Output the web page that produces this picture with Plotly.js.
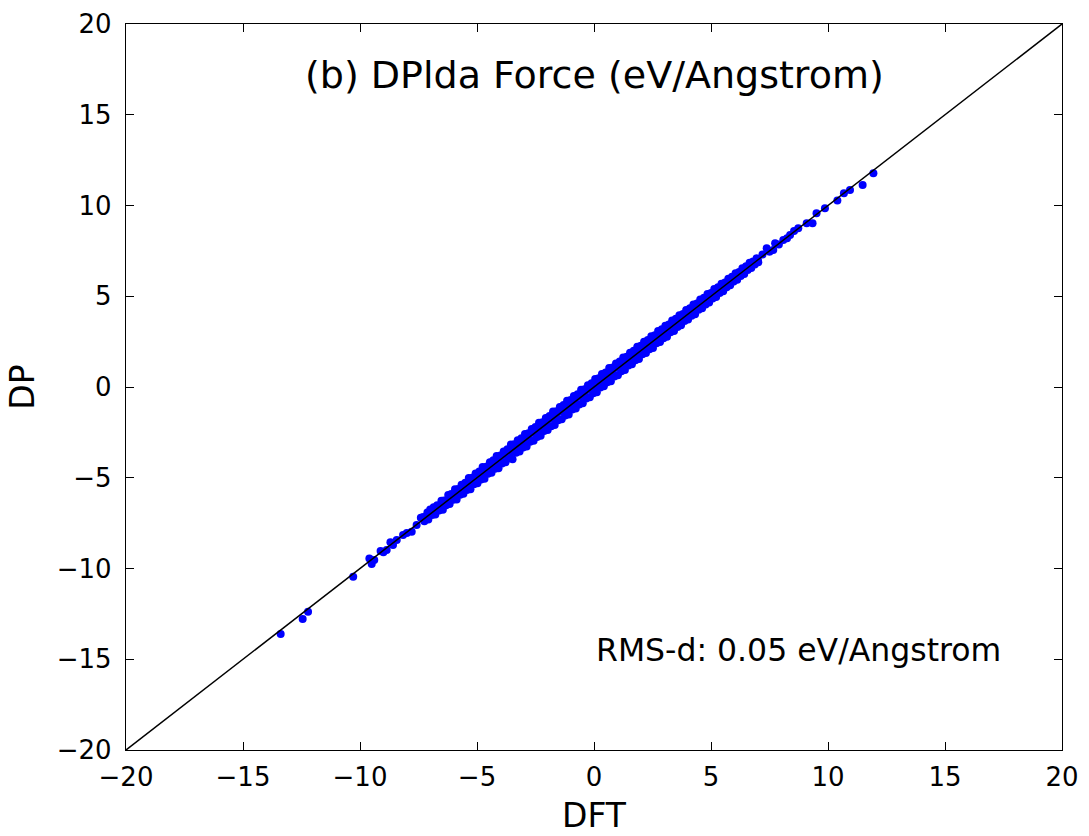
<!DOCTYPE html>
<html>
<head>
<meta charset="utf-8">
<script src="https://cdn.plot.ly/plotly-3.0.1.min.js"></script>
<style>html,body{margin:0;padding:0;background:#fff;}</style>
</head>
<body>
<div id="chart" style="width:1089px;height:836px;"></div>
<script>
// Upper side of the band
const dftUpper = [-7.3,-7.12,-6.98,-6.85,-6.7,-6.52,-6.4,-6.23,-6.1,-5.94,-5.8,-5.66,-5.5,-5.35,-5.2,-5.06,-4.9,-4.76,-4.6,-4.45,-4.3,-4.16,-4.0,-3.86,-3.7,-3.55,-3.4,-3.26,-3.1,-2.95,-2.8,-2.66,-2.5,-2.35,-2.2,-2.06,-1.9,-1.75,-1.6,-1.46,-1.3,-1.15,-1.0,-0.86,-0.7,-0.55,-0.4,-0.26,-0.1,0.05,0.2,0.34,0.5,0.65,0.8,0.94,1.1,1.25,1.4,1.54,1.7,1.85,2.0,2.14,2.3,2.45,2.6,2.74,2.9,3.05,3.2,3.34,3.5,3.65,3.8,3.94,4.1,4.25,4.4,4.54,4.7,4.85,5.0,5.14,5.3,5.45,5.6,5.74,5.9,6.05,6.2,6.34,6.5,6.65,6.8];
const dpUpper = [-7.16,-6.92,-6.86,-6.63,-6.52,-6.27,-6.25,-5.95,-5.90,-5.64,-5.62,-5.39,-5.28,-5.02,-5.00,-4.77,-4.66,-4.41,-4.39,-4.15,-4.04,-3.80,-3.78,-3.55,-3.43,-3.17,-3.16,-2.93,-2.82,-2.59,-2.55,-2.32,-2.21,-1.97,-1.94,-1.71,-1.60,-1.35,-1.33,-1.10,-0.99,-0.76,-0.72,-0.49,-0.40,-0.15,-0.13,0.10,0.21,0.44,0.48,0.71,0.80,1.05,1.07,1.30,1.41,1.63,1.66,1.89,2.00,2.22,2.27,2.50,2.59,2.80,2.85,3.08,3.18,3.38,3.44,3.66,3.76,3.96,4.02,4.24,4.34,4.54,4.60,4.82,4.92,5.12,5.18,5.40,5.50,5.69,5.76,5.97,6.08,6.27,6.34,6.54,6.65,6.84,6.92];

// Lower side of the band
const dftLower = [-7.25,-7.08,-6.92,-6.78,-6.62,-6.46,-6.32,-6.17,-6.02,-5.87,-5.72,-5.58,-5.43,-5.28,-5.13,-4.98,-4.83,-4.68,-4.53,-4.38,-4.23,-4.08,-3.93,-3.78,-3.63,-3.48,-3.33,-3.18,-3.03,-2.88,-2.73,-2.58,-2.43,-2.28,-2.13,-1.98,-1.83,-1.68,-1.53,-1.38,-1.23,-1.08,-0.93,-0.78,-0.63,-0.48,-0.33,-0.18,-0.03,0.12,0.27,0.42,0.57,0.72,0.87,1.02,1.17,1.32,1.47,1.62,1.77,1.92,2.07,2.22,2.37,2.52,2.67,2.82,2.97,3.12,3.27,3.42,3.57,3.72,3.87,4.02,4.17,4.32,4.47,4.62,4.77,4.92,5.07,5.22,5.37,5.52,5.67,5.82,5.97,6.12,6.27,6.42,6.57,6.72,6.87,7.02];
const dpLower = [-7.40,-7.30,-7.05,-7.03,-6.80,-6.76,-6.52,-6.45,-6.21,-6.20,-5.94,-5.88,-5.67,-5.64,-5.36,-5.30,-5.09,-5.06,-4.78,-4.72,-4.50,-4.47,-4.21,-4.14,-3.93,-3.98,-3.62,-3.55,-3.34,-3.28,-3.01,-2.96,-2.75,-2.69,-2.42,-2.37,-2.16,-2.10,-1.83,-1.78,-1.57,-1.51,-1.24,-1.18,-0.96,-0.90,-0.63,-0.57,-0.35,-0.29,-0.03,0.04,0.26,0.32,0.58,0.65,0.87,0.93,1.19,1.26,1.47,1.54,1.80,1.87,2.08,2.15,2.41,2.48,2.69,2.77,3.02,3.09,3.30,3.40,3.63,3.72,3.92,4.01,4.25,4.34,4.54,4.65,4.87,4.96,5.18,5.28,5.49,5.60,5.81,5.91,6.12,6.23,6.44,6.55,6.75,6.87];

// Centre of the band
const dftMid = [-7.0,-6.8,-6.6,-6.4,-6.2,-6.0,-5.8,-5.6,-5.4,-5.2,-5.0,-4.8,-4.6,-4.4,-4.2,-4.0,-3.8,-3.6,-3.4,-3.2,-3.0,-2.8,-2.6,-2.4,-2.2,-2.0,-1.8,-1.6,-1.4,-1.2,-1.0,-0.8,-0.6,-0.4,-0.2,0.0,0.2,0.4,0.6,0.8,1.0,1.2,1.4,1.6,1.8,2.0,2.2,2.4,2.6,2.8,3.0,3.2,3.4,3.6,3.8,4.0,4.2,4.4,4.6,4.8,5.0,5.2,5.4,5.6,5.8,6.0,6.2,6.4,6.6,6.8,7.0];
const dpMid = [-6.97,-6.84,-6.56,-6.45,-6.17,-6.06,-5.76,-5.65,-5.37,-5.25,-4.96,-4.86,-4.55,-4.46,-4.16,-4.05,-3.75,-3.66,-3.35,-3.26,-2.95,-2.86,-2.54,-2.46,-2.15,-2.06,-1.74,-1.66,-1.35,-1.25,-0.95,-0.86,-0.54,-0.46,-0.15,-0.05,0.26,0.34,0.65,0.74,1.06,1.14,1.45,1.54,1.86,1.94,2.25,2.34,2.66,2.74,3.05,3.14,3.46,3.55,3.85,3.95,4.24,4.35,4.64,4.76,5.04,5.15,5.44,5.56,5.83,5.96,6.24,6.36,6.63,6.77,7.03];

// Sparse tails
const dftTailLow = [-13.39,-12.45,-12.22,-10.29,-9.60,-9.50,-9.39,-9.12,-9.00,-8.86,-8.70,-8.59,-8.43,-8.16,-8.00,-7.79,-7.58,-7.40,-7.00];
const dpTailLow = [-13.61,-12.78,-12.38,-10.45,-9.45,-9.75,-9.53,-9.04,-9.10,-8.98,-8.55,-8.70,-8.43,-8.15,-8.05,-7.97,-7.60,-7.20,-6.75];
const dftTailHigh = [6.95,7.20,7.38,7.50,7.66,7.74,7.90,8.09,8.25,8.38,8.55,8.73,9.09,9.34,9.51,9.87,10.40,10.68,10.94,11.48,11.94];
const dpTailHigh = [7.09,7.30,7.64,7.45,7.55,7.92,7.85,8.10,8.20,8.37,8.60,8.74,9.02,9.02,9.57,9.85,10.27,10.67,10.85,11.13,11.77];

const diagX = [-20, 20];
const diagY = [-20, 20];

const titleText = "(b) DPlda Force (eV/Angstrom)";
const rmsText = "RMS-d: 0.05 eV/Angstrom";
const tickVals = [-20,-15,-10,-5,0,5,10,15,20];

const allX = [].concat(dftUpper, dftLower, dftMid, dftTailLow, dftTailHigh);
const allY = [].concat(dpUpper, dpLower, dpMid, dpTailLow, dpTailHigh);

const font = "DejaVu Sans, sans-serif";

const traces = [
  {x: allX, y: allY, type: "scatter", mode: "markers",
   marker: {color: "#0000ff", size: 8, opacity: 1, line: {width: 0}}, hoverinfo: "skip"},
  {x: diagX, y: diagY, type: "scatter", mode: "lines",
   line: {color: "#000000", width: 1.5}, hoverinfo: "skip"}
];

const axisCommon = {
  range: [-20, 20], tickvals: tickVals, ticks: "inside", ticklen: 8, tickwidth: 1,
  tickcolor: "#000", showline: true, linecolor: "#000", linewidth: 1.2, mirror: "ticks",
  showgrid: false, zeroline: false, tickfont: {family: font, size: 26, color: "#000"},
  fixedrange: true
};

const layout = {
  width: 1089, height: 836,
  margin: {l: 126, r: 27, t: 24, b: 86},
  paper_bgcolor: "#fff", plot_bgcolor: "#fff",
  showlegend: false,
  font: {family: font, color: "#000"},
  xaxis: Object.assign({}, axisCommon, {
    title: {text: "DFT", font: {family: font, size: 33, color: "#000"}, standoff: 12},
    ticklabelstandoff: 4
  }),
  yaxis: Object.assign({}, axisCommon, {
    title: {text: "DP", font: {family: font, size: 33, color: "#000"}, standoff: 12},
    ticklabelstandoff: 8
  }),
  annotations: [
    {x: 0, y: 17.2, xref: "x", yref: "y", text: titleText, showarrow: false,
     xanchor: "center", yanchor: "middle", font: {family: font, size: 38, color: "#000"}},
    {x: 0, y: -14.5, xref: "x", yref: "y", text: rmsText, showarrow: false,
     xanchor: "left", yanchor: "middle", font: {family: font, size: 31.5, color: "#000"}}
  ]
};

Plotly.newPlot("chart", traces, layout, {displayModeBar: false, staticPlot: true});
</script>
</body>
</html>
